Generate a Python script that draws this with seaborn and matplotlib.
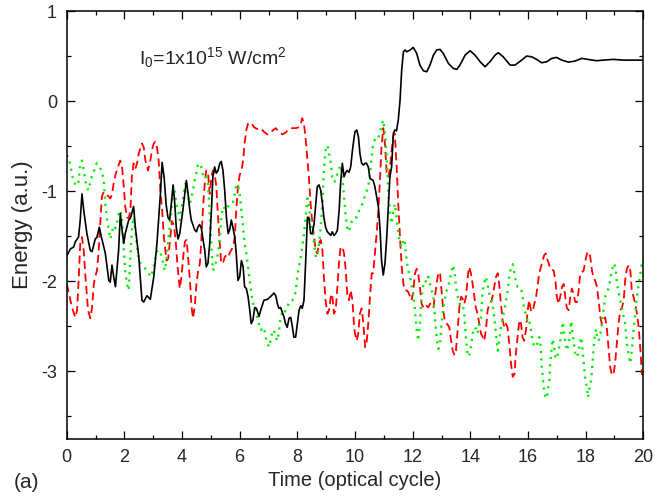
import matplotlib
matplotlib.use("Agg")
import matplotlib.pyplot as plt
import seaborn as sns
import pandas as pd
from matplotlib.ticker import MultipleLocator

# ---------------- data ----------------
black_t = [0.00,0.13,0.24,0.30,0.41,0.47,0.53,0.59,0.70,0.82,0.88,0.99,1.05,1.13,1.22,1.34,1.46,1.51,1.57,1.63,
           1.69,1.80,1.86,1.92,1.98,2.03,2.15,2.21,2.32,2.38,2.50,2.61,2.67,2.78,2.90,3.02,3.13,3.25,3.31,3.38,
           3.45,3.51,3.57,3.63,3.69,3.74,3.80,3.86,3.92,4.03,4.15,4.21,4.27,4.32,4.44,4.50,4.55,4.61,4.67,4.73,
           4.79,4.84,4.90,4.96,5.02,5.07,5.13,5.19,5.25,5.31,5.36,5.42,5.48,5.54,5.60,5.65,5.71,5.77,5.83,5.88,
           5.94,6.00,6.06,6.12,6.17,6.23,6.29,6.35,6.40,6.46,6.52,6.58,6.67,6.73,6.84,6.96,7.07,7.19,7.25,7.31,
           7.36,7.42,7.54,7.59,7.65,7.71,7.77,7.83,7.88,7.94,8.00,8.06,8.12,8.17,8.23,8.29,8.35,8.40,8.46,8.52,
           8.58,8.64,8.69,8.75,8.81,8.87,8.92,8.98,9.04,9.10,9.16,9.21,9.27,9.33,9.39,9.45,9.50,9.56,9.62,9.68,
           9.73,9.79,9.85,9.91,9.97,10.00,10.06,10.12,10.17,10.23,10.29,10.35,10.40,10.46,10.52,10.63,10.69,10.75,10.81,10.87,
           10.92,10.98,11.04,11.10,11.16,11.21,11.27,11.33,11.38,11.44,11.50,11.56,11.62,11.68,11.74,11.79,11.91,12.02,12.14,12.25,
           12.37,12.49,12.60,12.72,12.83,12.95,13.06,13.24,13.41,13.53,13.64,13.82,13.99,14.16,14.34,14.51,14.68,14.86,14.97,15.14,
           15.38,15.55,15.78,15.95,16.13,16.30,16.47,16.65,16.82,16.99,17.17,17.40,17.63,17.86,18.09,18.38,18.61,18.96,19.31,20.00]
black_e = [-1.72,-1.64,-1.62,-1.56,-1.51,-1.32,-1.03,-1.21,-1.47,-1.66,-1.67,-1.53,-1.51,-1.40,-1.53,-1.69,-1.99,-2.01,-1.82,-1.95,
           -2.06,-1.66,-1.25,-1.43,-1.58,-1.47,-1.32,-1.30,-1.17,-1.40,-1.73,-2.21,-2.23,-2.16,-2.20,-1.95,-1.58,-1.03,-0.68,-0.85,
           -1.15,-1.29,-1.32,-1.14,-0.93,-1.10,-1.40,-1.53,-1.47,-1.21,-0.88,-1.03,-1.21,-1.32,-1.43,-1.45,-1.40,-1.37,-1.41,-1.54,
           -1.66,-1.84,-1.80,-1.58,-1.21,-0.84,-0.73,-0.80,-0.77,-0.69,-0.67,-0.77,-0.99,-1.29,-1.47,-1.43,-1.32,-1.41,-1.51,-1.69,
           -1.99,-1.95,-1.77,-1.84,-2.06,-2.08,-2.17,-2.32,-2.47,-2.43,-2.29,-2.30,-2.39,-2.32,-2.21,-2.20,-2.17,-2.13,-2.16,-2.25,
           -2.30,-2.29,-2.40,-2.47,-2.51,-2.41,-2.40,-2.51,-2.62,-2.62,-2.47,-2.32,-2.27,-2.30,-2.21,-1.77,-1.29,-1.29,-1.47,-1.47,
           -1.36,-1.14,-0.95,-0.93,-0.99,-1.14,-1.29,-1.40,-1.45,-1.47,-1.49,-1.45,-1.49,-1.47,-1.43,-1.21,-0.91,-0.69,-0.84,-0.79,
           -0.77,-0.79,-0.73,-0.55,-0.40,-0.34,-0.32,-0.40,-0.58,-0.69,-0.71,-0.69,-0.69,-0.73,-0.86,-0.88,-0.95,-1.06,-1.17,-1.43,
           -1.77,-1.93,-1.80,-1.51,-1.14,-0.84,-0.73,-0.36,-0.32,-0.33,-0.21,0.00,0.35,0.55,0.567,0.548,0.567,0.596,0.53,0.40,
           0.337,0.326,0.40,0.51,0.567,0.574,0.53,0.418,0.363,0.352,0.40,0.511,0.559,0.511,0.437,0.381,0.437,0.511,0.537,0.492,
           0.40,0.40,0.455,0.50,0.492,0.463,0.426,0.437,0.474,0.485,0.455,0.433,0.444,0.474,0.463,0.448,0.455,0.463,0.455,0.455]

red_t = [0.00,0.07,0.18,0.30,0.36,0.42,0.47,0.53,0.59,0.65,0.74,0.82,0.88,0.94,0.99,1.05,1.11,1.17,1.22,1.28,
         1.34,1.46,1.51,1.57,1.63,1.69,1.80,1.86,1.92,1.98,2.03,2.09,2.15,2.21,2.26,2.32,2.38,2.44,2.50,2.61,
         2.67,2.73,2.82,2.90,2.96,3.02,3.07,3.13,3.19,3.25,3.31,3.37,3.46,3.52,3.58,3.65,3.72,3.78,3.85,3.92,
         3.98,4.04,4.10,4.16,4.22,4.28,4.33,4.38,4.44,4.50,4.56,4.62,4.67,4.73,4.79,4.84,4.90,4.96,5.02,5.07,
         5.13,5.19,5.25,5.31,5.36,5.42,5.48,5.54,5.60,5.65,5.71,5.77,5.83,5.88,5.94,6.00,6.06,6.12,6.17,6.23,
         6.29,6.40,6.50,6.61,6.73,6.84,6.96,7.02,7.13,7.25,7.36,7.48,7.59,7.71,7.83,7.94,8.06,8.12,8.17,8.23,
         8.29,8.35,8.40,8.46,8.52,8.58,8.64,8.69,8.75,8.81,8.87,8.92,8.98,9.04,9.10,9.16,9.21,9.27,9.33,9.39,
         9.45,9.50,9.56,9.62,9.68,9.73,9.79,9.85,9.91,9.97,10.00,10.06,10.11,10.17,10.23,10.29,10.35,10.40,10.46,10.52,
         10.58,10.63,10.69,10.75,10.81,10.87,10.92,10.98,11.04,11.10,11.16,11.21,11.27,11.33,11.38,11.44,11.50,11.56,11.62,11.68,
         11.73,11.79,11.85,11.91,11.96,12.02,12.08,12.14,12.19,12.25,12.31,12.37,12.42,12.48,12.54,12.60,12.66,12.72,12.77,12.83,
         12.89,12.95,13.00,13.06,13.12,13.21,13.27,13.33,13.39,13.45,13.50,13.56,13.62,13.68,13.73,13.79,13.85,13.91,13.96,14.02,
         14.08,14.14,14.19,14.25,14.31,14.37,14.43,14.48,14.54,14.60,14.66,14.72,14.77,14.83,14.89,14.95,15.00,15.06,15.12,15.18,
         15.23,15.29,15.35,15.41,15.47,15.53,15.58,15.64,15.70,15.76,15.81,15.87,15.93,15.99,16.04,16.10,16.16,16.22,16.28,16.33,
         16.39,16.45,16.51,16.56,16.62,16.66,16.72,16.77,16.89,16.95,17.00,17.06,17.12,17.18,17.24,17.29,17.35,17.41,17.47,17.52,
         17.58,17.64,17.70,17.76,17.81,17.87,17.93,17.99,18.05,18.10,18.16,18.22,18.28,18.33,18.39,18.45,18.51,18.56,18.62,18.68,
         18.74,18.80,18.85,18.91,18.97,19.03,19.09,19.14,19.20,19.26,19.32,19.37,19.43,19.49,19.55,19.60,19.66,19.72,19.78,19.84,
         19.90,19.95,20.00]
red_e = [-2.03,-2.12,-2.29,-2.40,-2.32,-1.95,-1.58,-1.51,-1.66,-1.95,-2.32,-2.41,-2.29,-2.03,-1.95,-1.88,-1.66,-1.32,-1.06,-1.01,
         -1.03,-1.06,-1.08,-1.04,-0.91,-0.82,-0.71,-0.66,-0.73,-0.95,-1.17,-1.29,-1.30,-1.21,-0.84,-0.69,-0.75,-0.69,-0.58,-0.47,
         -0.51,-0.66,-0.77,-0.66,-0.54,-0.47,-0.45,-0.51,-0.66,-0.99,-1.21,-1.50,-1.77,-1.75,-1.55,-1.33,-1.38,-1.55,-1.85,-2.08,
         -1.95,-1.73,-1.56,-1.54,-1.77,-2.02,-2.28,-2.41,-2.28,-2.03,-1.88,-1.80,-1.54,-1.17,-0.91,-0.77,-0.79,-1.03,-0.84,-0.77,
         -0.80,-0.95,-1.29,-1.58,-1.80,-1.80,-1.73,-1.71,-1.73,-1.69,-1.65,-1.62,-1.51,-1.21,-0.95,-0.82,-0.77,-0.66,-0.47,-0.32,
         -0.25,-0.24,-0.29,-0.31,-0.30,-0.34,-0.37,-0.36,-0.33,-0.30,-0.34,-0.37,-0.35,-0.31,-0.30,-0.30,-0.29,-0.25,-0.19,-0.25,
         -0.43,-0.66,-0.84,-1.14,-1.36,-1.51,-1.66,-1.69,-1.58,-1.54,-1.66,-1.95,-2.21,-2.36,-2.32,-2.17,-2.14,-2.36,-2.32,-2.06,
         -1.77,-1.62,-1.62,-1.69,-1.88,-2.14,-2.21,-2.10,-2.21,-2.51,-2.58,-2.66,-2.58,-2.36,-2.30,-2.47,-2.73,-2.69,-2.47,-2.17,
         -1.91,-1.91,-1.69,-1.47,-1.21,-0.85,-0.50,-0.30,-0.48,-0.82,-0.84,-0.75,-0.55,-0.38,-0.36,-0.70,-1.14,-1.51,-1.84,-2.03,
         -2.10,-2.10,-2.12,-2.17,-2.21,-2.12,-1.91,-1.86,-1.91,-2.06,-2.25,-2.29,-2.30,-2.27,-2.29,-2.25,-2.25,-2.29,-2.17,-2.03,
         -1.90,-1.91,-2.10,-2.32,-2.45,-2.48,-2.51,-2.65,-2.77,-2.82,-2.77,-2.54,-2.29,-2.17,-2.19,-2.25,-2.17,-1.95,-1.84,-1.91,
         -2.03,-2.17,-2.29,-2.36,-2.47,-2.58,-2.62,-2.66,-2.54,-2.32,-2.25,-2.23,-2.17,-2.06,-1.95,-1.91,-2.03,-2.25,-2.43,-2.51,
         -2.47,-2.51,-2.69,-2.91,-3.06,-3.03,-2.80,-2.62,-2.43,-2.47,-2.62,-2.66,-2.54,-2.32,-2.21,-2.32,-2.34,-2.25,-2.17,-2.06,
         -1.91,-1.84,-1.77,-1.71,-1.69,-1.75,-1.80,-1.86,-1.88,-1.99,-2.17,-2.25,-2.17,-2.06,-2.03,-2.17,-2.30,-2.32,-2.17,-2.08,
         -2.14,-2.23,-2.23,-2.10,-1.91,-1.90,-1.88,-1.77,-1.69,-1.67,-1.73,-1.88,-1.97,-1.99,-2.06,-2.21,-2.40,-2.47,-2.43,-2.40,
         -2.54,-2.77,-2.95,-3.04,-3.03,-2.88,-2.66,-2.47,-2.32,-2.29,-2.21,-1.99,-1.86,-1.82,-1.88,-2.10,-2.17,-2.25,-2.36,-2.51,
         -2.77,-3.03,-3.04]

green_t = [0.00,0.07,0.18,0.24,0.36,0.42,0.47,0.53,0.59,0.65,0.70,0.76,0.82,0.88,0.94,0.99,1.05,1.11,1.17,1.22,
           1.28,1.34,1.40,1.46,1.51,1.57,1.63,1.69,1.74,1.80,1.86,1.92,1.98,2.03,2.09,2.15,2.21,2.26,2.32,2.38,
           2.44,2.50,2.61,2.73,2.84,2.90,2.96,3.02,3.08,3.13,3.19,3.25,3.31,3.40,3.46,3.51,3.57,3.63,3.69,3.74,
           3.80,3.86,3.92,3.98,4.03,4.09,4.15,4.21,4.27,4.32,4.38,4.44,4.50,4.55,4.61,4.67,4.73,4.79,4.84,4.90,
           4.96,5.02,5.07,5.13,5.19,5.25,5.31,5.36,5.42,5.48,5.54,5.60,5.65,5.71,5.77,5.83,5.88,5.94,6.00,6.06,
           6.12,6.17,6.23,6.29,6.35,6.40,6.46,6.52,6.61,6.73,6.84,6.90,6.96,7.02,7.07,7.13,7.19,7.25,7.31,7.36,
           7.42,7.48,7.54,7.59,7.65,7.71,7.77,7.83,7.88,7.94,8.00,8.06,8.12,8.17,8.23,8.29,8.35,8.40,8.46,8.52,
           8.58,8.64,8.69,8.75,8.81,8.87,8.92,8.98,9.04,9.10,9.16,9.21,9.27,9.33,9.39,9.45,9.50,9.56,9.62,9.68,
           9.73,9.79,9.85,9.91,9.97,10.06,10.17,10.29,10.35,10.46,10.52,10.58,10.63,10.69,10.75,10.81,10.87,10.92,10.98,11.04,
           11.10,11.16,11.21,11.27,11.33,11.39,11.44,11.50,11.56,11.62,11.68,11.73,11.79,11.85,11.91,11.96,12.02,12.08,12.14,12.19,
           12.25,12.31,12.37,12.42,12.48,12.54,12.60,12.66,12.72,12.77,12.83,12.89,12.95,13.00,13.06,13.12,13.18,13.27,13.39,13.45,
           13.50,13.56,13.62,13.73,13.79,13.85,13.91,13.96,14.02,14.08,14.14,14.20,14.25,14.31,14.37,14.43,14.49,14.54,14.60,14.66,
           14.72,14.77,14.83,14.89,14.95,15.00,15.06,15.12,15.18,15.24,15.29,15.35,15.41,15.47,15.53,15.58,15.64,15.70,15.76,15.81,
           15.87,15.93,15.99,16.04,16.10,16.16,16.22,16.28,16.33,16.39,16.43,16.48,16.54,16.60,16.66,16.69,16.74,16.77,16.81,16.85,
           16.89,16.95,17.00,17.06,17.12,17.18,17.20,17.24,17.29,17.35,17.41,17.47,17.50,17.52,17.58,17.64,17.70,17.76,17.81,17.85,
           17.87,17.93,17.99,18.05,18.08,18.13,18.19,18.24,18.28,18.31,18.36,18.39,18.45,18.51,18.56,18.62,18.68,18.74,18.80,18.85,
           18.91,18.97,19.03,19.09,19.14,19.20,19.26,19.32,19.37,19.43,19.49,19.55,19.60,19.66,19.72,19.78,19.84,19.90,19.95,20.00]
green_e = [-0.60,-0.62,-0.80,-0.90,-0.94,-0.88,-0.69,-0.66,-0.77,-0.88,-0.96,-0.99,-0.90,-0.82,-0.79,-0.71,-0.69,-0.72,-0.75,-0.79,
           -0.86,-1.14,-1.32,-1.43,-1.53,-1.45,-1.38,-1.41,-1.36,-1.25,-1.21,-1.32,-1.66,-1.88,-2.03,-2.10,-1.73,-1.43,-1.29,-1.43,
           -1.62,-1.77,-1.82,-1.86,-1.90,-1.95,-1.91,-1.84,-1.73,-1.67,-1.65,-1.68,-1.75,-1.88,-1.77,-1.60,-1.40,-1.21,-0.97,-0.99,
           -1.14,-1.21,-1.32,-1.21,-1.10,-0.95,-0.88,-1.06,-1.14,-1.08,-0.99,-0.88,-0.80,-0.71,-0.69,-0.73,-0.82,-0.86,-0.84,-0.91,
           -1.25,-1.62,-1.88,-1.84,-1.77,-1.69,-1.51,-1.29,-1.17,-1.19,-1.21,-1.17,-1.14,-1.12,-1.12,-1.03,-0.93,-0.93,-1.03,-1.21,
           -1.40,-1.58,-1.69,-1.84,-1.99,-2.12,-2.25,-2.25,-2.41,-2.54,-2.51,-2.62,-2.69,-2.73,-2.66,-2.56,-2.54,-2.62,-2.66,-2.56,
           -2.40,-2.34,-2.36,-2.32,-2.29,-2.23,-2.21,-2.21,-2.17,-2.12,-1.93,-1.82,-1.73,-1.62,-1.47,-1.29,-1.08,-1.17,-1.32,-1.43,
           -1.58,-1.73,-1.73,-1.58,-1.40,-1.14,-0.77,-0.54,-0.49,-0.58,-0.69,-0.84,-0.90,-0.88,-0.80,-0.75,-0.71,-0.84,-1.06,-1.29,
           -1.41,-1.45,-1.36,-1.32,-1.29,-1.29,-1.19,-1.12,-1.04,-0.95,-0.80,-0.62,-0.47,-0.43,-0.44,-0.41,-0.34,-0.27,-0.21,-0.36,
           -0.62,-1.03,-1.25,-1.36,-1.21,-1.14,-1.29,-1.47,-1.58,-1.62,-1.53,-1.58,-1.77,-1.88,-1.95,-2.04,-2.14,-2.32,-2.54,-2.66,
           -2.47,-2.17,-2.03,-1.99,-2.01,-1.95,-2.03,-2.10,-2.17,-2.40,-2.62,-2.75,-2.69,-2.47,-2.29,-2.19,-2.10,-2.01,-1.82,-1.88,
           -2.06,-2.16,-2.25,-2.25,-2.36,-2.64,-2.83,-2.83,-2.73,-2.58,-2.51,-2.53,-2.58,-2.47,-2.40,-2.10,-2.01,-1.95,-2.04,-2.14,
           -2.19,-2.25,-2.40,-2.58,-2.77,-2.66,-2.51,-2.40,-2.32,-2.21,-2.12,-1.95,-1.84,-1.81,-1.91,-2.01,-2.06,-2.06,-2.08,-2.16,
           -2.32,-2.36,-2.45,-2.43,-2.54,-2.66,-2.73,-2.71,-2.69,-2.62,-2.69,-2.95,-3.17,-3.27,-3.30,-3.21,-3.10,-2.91,-2.77,-2.64,
           -2.69,-2.84,-2.86,-2.77,-2.66,-2.54,-2.45,-2.54,-2.66,-2.77,-2.69,-2.54,-2.44,-2.51,-2.66,-2.82,-2.84,-2.77,-2.66,-2.62,
           -2.69,-2.91,-3.10,-3.19,-3.29,-3.19,-3.10,-2.91,-2.73,-2.62,-2.53,-2.60,-2.66,-2.58,-2.47,-2.32,-2.17,-2.13,-2.06,-1.99,
           -1.88,-1.80,-1.84,-2.03,-2.12,-2.21,-2.30,-2.40,-2.47,-2.69,-2.82,-2.91,-2.77,-2.54,-2.36,-2.17,-2.03,-1.91,-1.80,-1.75]

x_ticks = [0, 2, 4, 6, 8, 10, 12, 14, 16, 18, 20]
y_ticks = [-3, -2, -1, 0, 1]
x_label = "Time (optical cycle)"
y_label = "Energy (a.u.)"
note = r"I$_0$=1x10$^{15}$ W/cm$^2$"
panel = "(a)"

# ---------------- style ----------------
sns.set_theme(style="ticks")
plt.rcParams['font.family'] = ['Liberation Sans', 'DejaVu Sans']
plt.rcParams['axes.unicode_minus'] = False
plt.rcParams['mathtext.fontset'] = 'custom'
plt.rcParams['mathtext.rm'] = 'Liberation Sans'
plt.rcParams['mathtext.it'] = 'Liberation Sans:italic'

fig = plt.figure(figsize=(6.67, 4.96), dpi=100)
ax = fig.add_axes([0.1, 0.1149, 0.8645, 0.8629])

df_b = pd.DataFrame({"t": black_t, "E": black_e})
df_r = pd.DataFrame({"t": red_t, "E": red_e})
df_g = pd.DataFrame({"t": green_t, "E": green_e})

sns.lineplot(data=df_r, x="t", y="E", ax=ax, color="#ff0000", lw=1.3, sort=False, estimator=None)
ax.lines[-1].set_dashes((4.5, 2.5))
sns.lineplot(data=df_g, x="t", y="E", ax=ax, color="#00f000", lw=1.7, sort=False, estimator=None)
ax.lines[-1].set_dashes((0.9, 2.2))
sns.lineplot(data=df_b, x="t", y="E", ax=ax, color="black", lw=1.2, sort=False, estimator=None)

ax.set_xlim(0, 20)
ax.set_ylim(-3.75, 1)
ax.set_xticks(x_ticks)
ax.set_yticks(y_ticks)
ax.set_xticklabels([str(v) for v in x_ticks])
ax.set_yticklabels([str(v) for v in y_ticks])
ax.xaxis.set_minor_locator(MultipleLocator(1))
ax.yaxis.set_minor_locator(MultipleLocator(0.5))
ax.tick_params(which='both', direction='in', top=True, right=True, width=0.9, color='black')
ax.tick_params(which='major', length=6, labelsize=13, pad=7)
ax.tick_params(which='minor', length=3)
for s in ax.spines.values():
    s.set_linewidth(1.1)
    s.set_color('black')

ax.set_xlabel(x_label, fontsize=14.5, labelpad=4)
ax.set_ylabel(y_label, fontsize=16, labelpad=6)
ax.text(2.52, 0.41, note, fontsize=14, va='baseline', ha='left')
fig.text(0.02, 0.008, panel, fontsize=15, ha='left', va='bottom')

fig.savefig("out.png", dpi=100)
